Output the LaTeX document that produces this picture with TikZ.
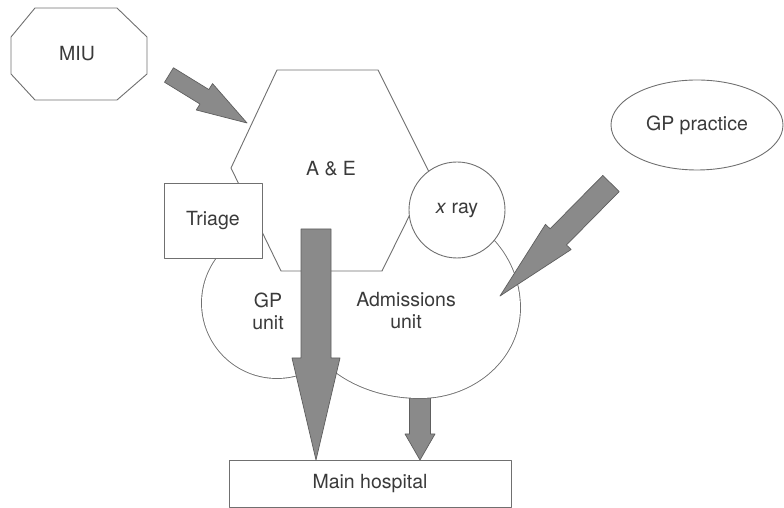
\documentclass[tikz,border=0pt]{standalone}
\usepackage{fontspec}
\setmainfont{TeX Gyre Heros}
\usetikzlibrary{calc,shapes.geometric}
\definecolor{ln}{HTML}{707070}
\definecolor{af}{HTML}{8A8A8A}
\definecolor{ab}{HTML}{5E5E5E}
\definecolor{tx}{HTML}{3A3A3A}
% fat block arrow: #1 tail, #2 tip, #3 half shaft width, #4 half head width, #5 head length
\newcommand{\fatarr}[5]{%
  \coordinate (FAc) at ($(#2)!#5!(#1)$);
  \filldraw[fatarrow] ($(#1)!#3!90:(#2)$) -- ($(FAc)!#3!90:(#2)$) -- ($(FAc)!#4!90:(#2)$) -- (#2)
    -- ($(FAc)!#4!-90:(#2)$) -- ($(FAc)!#3!-90:(#2)$) -- ($(#1)!#3!-90:(#2)$) -- cycle;}
\newcommand{\admpath}{(420,300) arc[start angle=90,end angle=0,x radius=100,y radius=100]
   arc[start angle=0,end angle=-90,x radius=100,y radius=90]
   arc[start angle=270,end angle=180,x radius=120,y radius=90]
   arc[start angle=180,end angle=90,x radius=120,y radius=100] -- cycle}
\begin{document}
\begin{tikzpicture}[x=1pt,y=1pt,line join=round,
  outl/.style={draw=ln,line width=0.9pt},
  lbl/.style={text=tx,font=\fontsize{19.5}{22}\selectfont,align=center,inner sep=0pt},
  fatarrow/.style={fill=af,draw=ab,line width=0.7pt}]
\useasboundingbox (0,0) rectangle (784,508);

% small arrow behind the admissions unit
\coordinate (s0) at (420,130);
\coordinate (s1) at (420,48);
\fatarr{s0}{s1}{10.5pt}{15pt}{26pt}

% GP unit + admissions unit blob (union outline)
\draw[ln,line width=1.8pt] (277,205) circle[radius=75];
\draw[ln,line width=1.8pt] \admpath;
\fill[white] (277,205) circle[radius=75];
\fill[white] \admpath;
\node[lbl] (gpu) at (268,197) {GP\\unit};
\node[lbl] (adm) at (406,197) {Admissions\\unit};

% A & E hexagon
\filldraw[outl,fill=white] (277,438) -- (378,438) -- (430,334) -- (382,237) -- (281,237) -- (231,340) -- cycle;
\node[lbl] (ae) at (331,339) {A \& E};

% Triage
\node[outl,fill=white,minimum width=98pt,minimum height=75pt,lbl] (triage) at (213,287.5) {Triage};

% x ray
\node[circle,outl,fill=white,minimum size=96pt,lbl] (xray) at (457,298) {\textit{x} ray};

% MIU octagon
\filldraw[outl,fill=white] (35,500) -- (117,500) -- (147,471) -- (147,434) -- (117,408) -- (35,408) -- (11,434) -- (11,471) -- cycle;
\node[lbl] (miu) at (77,454) {MIU};

% GP practice
\node[ellipse,outl,minimum width=172pt,minimum height=90pt,lbl] (gpp) at (697,383) {GP practice};

% Main hospital
\node[outl,minimum width=282pt,minimum height=47pt,lbl] (main) at (370,24.5) {Main hospital};

% arrows
\coordinate (c0) at (316,279);
\coordinate (c1) at (316,48);
\fatarr{c0}{c1}{15pt}{24pt}{102pt}

\coordinate (g0) at (611,324.5);
\coordinate (g1) at (500,212);
\fatarr{g0}{g1}{11.5pt}{18pt}{83pt}

\coordinate (m0) at (169,433);
\coordinate (m1) at (247,385);
\fatarr{m0}{m1}{8.5pt}{15.5pt}{50pt}
\end{tikzpicture}
\end{document}
